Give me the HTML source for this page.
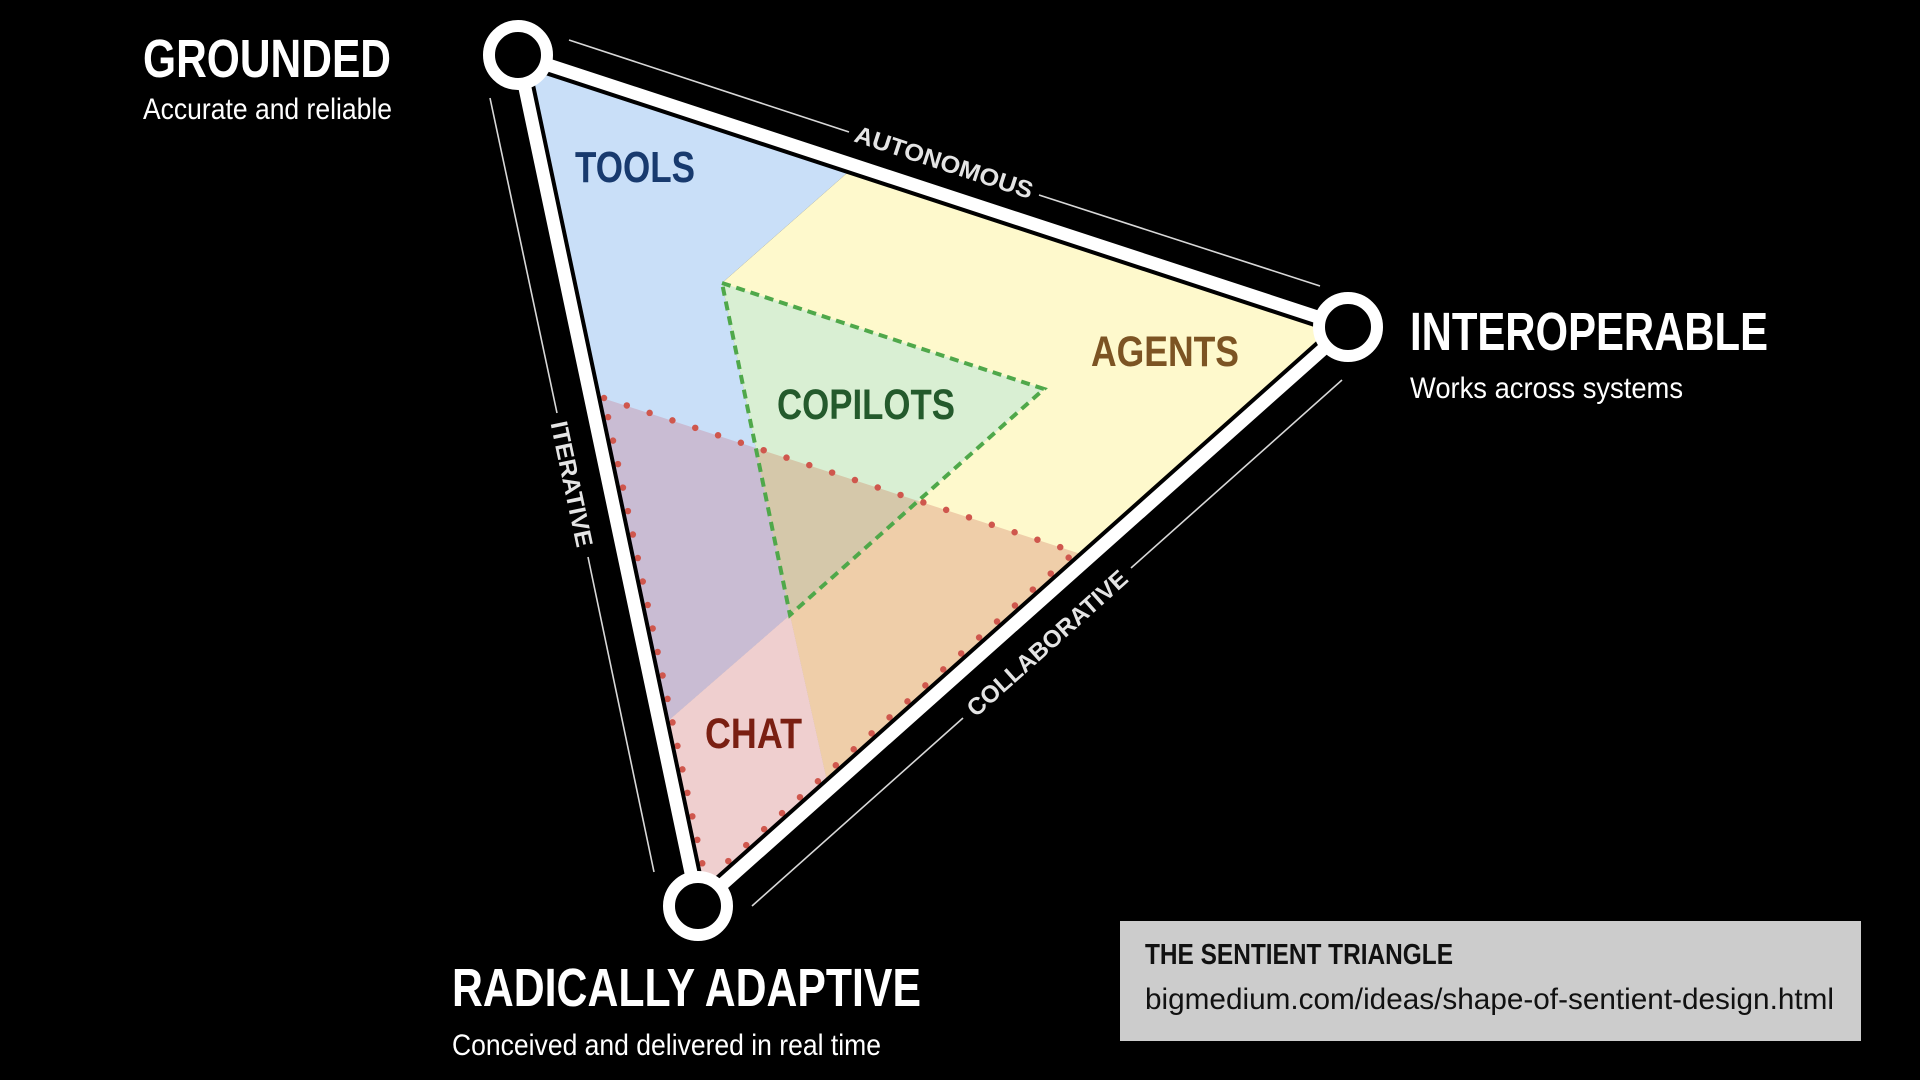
<!DOCTYPE html>
<html>
<head>
<meta charset="utf-8">
<style>
  html, body { margin: 0; padding: 0; background: #000; }
  body { width: 1920px; height: 1080px; overflow: hidden; }
  svg { display: block; }
  text { font-family: "Liberation Sans Narrow", "Liberation Sans", Arial, sans-serif; }
  .b { font-weight: 700; }
</style>
</head>
<body>
<svg width="1920" height="1080" viewBox="0 0 1920 1080" xmlns="http://www.w3.org/2000/svg">
  <rect x="0" y="0" width="1920" height="1080" fill="#000"/>
  <defs>
    <clipPath id="ov">
      <polygon points="590,394 1090,557 698,906"/>
    </clipPath>
  </defs>

  <!-- base regions -->
  <polygon points="518,55 855,166 722,283 790,615 660,728" fill="#c9dff8"/>
  <polygon points="855,166 1348,327 829,790 790,615 722,283" fill="#fef9cc"/>
  <polygon points="660,728 790,615 829,790 698,906" fill="#efcfcf"/>

  <!-- chat-influence overlay tints -->
  <g clip-path="url(#ov)">
    <polygon points="518,55 855,166 722,283 790,615 660,728" fill="#c9bcd3"/>
    <polygon points="855,166 1348,327 829,790 790,615 722,283" fill="#efcea9"/>
    <polygon points="660,728 790,615 829,790 698,906" fill="#efcfcf"/>
  </g>

  <!-- copilots -->
  <polygon points="722,283 1044,389 790,615" fill="#d9efd3"/>
  <g clip-path="url(#ov)">
    <polygon points="722,283 1044,389 790,615" fill="#d5c8aa"/>
  </g>
  <polygon points="722,283 1044,389 790,615" fill="none" stroke="#4fa84a" stroke-width="4" stroke-dasharray="9 6"/>

  <!-- dotted chat boundary -->
  <polygon points="604,398 1075,552 706,881" fill="none" stroke="#cf574d" stroke-width="6.5" stroke-linecap="round" stroke-dasharray="0 24"/>

  <!-- triangle edges -->
  <polygon points="518,55 1348,327 698,906" fill="none" stroke="#000" stroke-width="21" stroke-linejoin="round"/>
  <polygon points="518,55 1348,327 698,906" fill="none" stroke="#fff" stroke-width="13" stroke-linejoin="round"/>

  <!-- vertex circles -->
  <circle cx="518" cy="55" r="29" fill="#000" stroke="#fff" stroke-width="12"/>
  <circle cx="1348" cy="327" r="29" fill="#000" stroke="#fff" stroke-width="12"/>
  <circle cx="698" cy="906" r="29" fill="#000" stroke="#fff" stroke-width="12"/>

  <!-- guide lines -->
  <g stroke="#d8d8d8" stroke-width="1.6">
    <line x1="569" y1="40" x2="849" y2="132"/>
    <line x1="1039" y1="195" x2="1320" y2="286"/>
    <line x1="490" y1="98" x2="557" y2="413"/>
    <line x1="588" y1="557" x2="654" y2="872"/>
    <line x1="1342" y1="380" x2="1131" y2="568"/>
    <line x1="963" y1="718" x2="752" y2="906"/>
  </g>

  <!-- guide labels -->
  <g fill="#e4e4e4" class="b" font-size="24">
    <g transform="translate(944,162) rotate(18.15)">
      <text class="b" x="0" y="8.5" text-anchor="middle" textLength="186" lengthAdjust="spacingAndGlyphs">AUTONOMOUS</text>
    </g>
    <g transform="translate(572,484) rotate(78.06)">
      <text class="b" x="0" y="8.5" text-anchor="middle" textLength="128" lengthAdjust="spacingAndGlyphs">ITERATIVE</text>
    </g>
    <g transform="translate(1047,643) rotate(-41.7)">
      <text class="b" x="0" y="8.5" text-anchor="middle" textLength="206" lengthAdjust="spacingAndGlyphs">COLLABORATIVE</text>
    </g>
  </g>

  <!-- region labels -->
  <text class="b" x="575" y="182" font-size="44" fill="#183a6e" textLength="120" lengthAdjust="spacingAndGlyphs">TOOLS</text>
  <text class="b" x="777" y="419" font-size="43" fill="#245a2c" textLength="178" lengthAdjust="spacingAndGlyphs">COPILOTS</text>
  <text class="b" x="1091" y="366" font-size="43" fill="#7c5423" textLength="148" lengthAdjust="spacingAndGlyphs">AGENTS</text>
  <text class="b" x="705" y="748" font-size="43" fill="#7a1f12" textLength="97" lengthAdjust="spacingAndGlyphs">CHAT</text>

  <!-- vertex titles -->
  <text class="b" x="143" y="77" font-size="54" fill="#fff" textLength="248" lengthAdjust="spacingAndGlyphs">GROUNDED</text>
  <text x="143" y="119" font-size="30" fill="#fff" textLength="249" lengthAdjust="spacingAndGlyphs">Accurate and reliable</text>

  <text class="b" x="1410" y="350" font-size="54" fill="#fff" textLength="358" lengthAdjust="spacingAndGlyphs">INTEROPERABLE</text>
  <text x="1410" y="398" font-size="30" fill="#fff" textLength="273" lengthAdjust="spacingAndGlyphs">Works across systems</text>

  <text class="b" x="452" y="1006" font-size="54" fill="#fff" textLength="469" lengthAdjust="spacingAndGlyphs">RADICALLY ADAPTIVE</text>
  <text x="452" y="1055" font-size="30" fill="#fff" textLength="429" lengthAdjust="spacingAndGlyphs">Conceived and delivered in real time</text>

  <!-- source box -->
  <rect x="1120" y="921" width="741" height="120" fill="#cccccc"/>
  <text class="b" x="1145" y="964" font-size="29" fill="#111" textLength="308" lengthAdjust="spacingAndGlyphs">THE SENTIENT TRIANGLE</text>
  <text x="1145" y="1009" font-size="30" fill="#111" textLength="689" lengthAdjust="spacingAndGlyphs">bigmedium.com/ideas/shape-of-sentient-design.html</text>
</svg>
</body>
</html>
